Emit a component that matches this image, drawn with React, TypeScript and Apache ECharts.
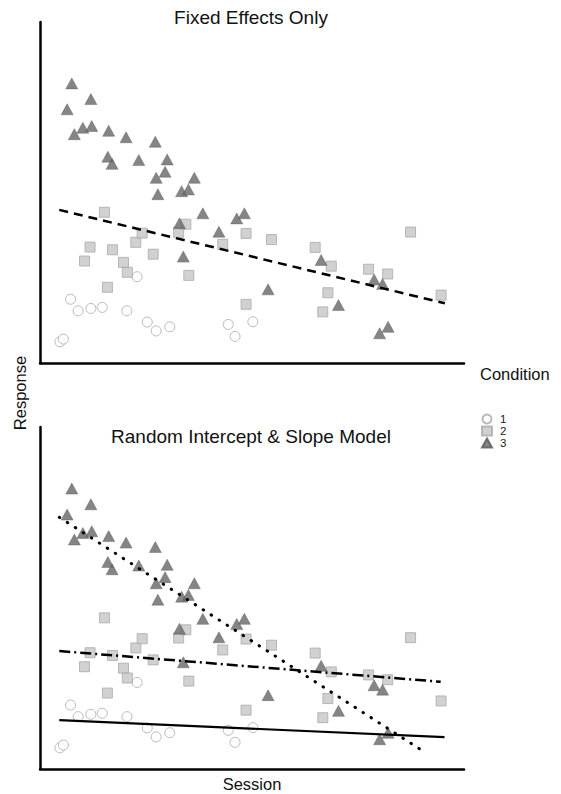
import React, { useEffect, useRef } from "react";
import * as echarts from "echarts";

// Condition 1 (open circles): [session, response]
const cond1: number[][] = [
  [7.2, 18.7], [9.0, 15.3], [12.0, 16.0], [14.7, 16.3], [20.5, 15.3], [22.9, 25.3],
  [25.3, 12.0], [27.4, 9.4], [30.6, 10.6], [4.7, 6.2], [5.5, 7.0], [44.4, 11.3],
  [46.0, 7.8], [50.2, 12.1],
];
// Condition 2 (grey squares)
const cond2: number[][] = [
  [15.2, 44.2], [11.8, 34.0], [17.1, 33.2], [10.5, 29.9], [22.6, 35.4], [24.1, 38.1],
  [26.7, 31.9], [19.7, 29.5], [20.6, 26.6], [15.9, 22.2], [32.7, 38.3], [34.4, 40.7],
  [35.1, 25.7], [43.1, 34.8], [48.6, 38.0], [48.6, 17.2], [54.6, 36.2], [64.9, 33.9],
  [68.7, 28.4], [67.9, 20.6], [66.7, 15.0], [77.5, 27.5], [82.0, 26.1], [87.4, 38.4],
  [94.6, 19.9],
];
// Condition 3 (dark triangles)
const cond3: number[][] = [
  [7.5, 82.0], [12.0, 77.4], [6.4, 74.4], [8.1, 67.1], [10.1, 69.0], [12.2, 69.5],
  [16.2, 68.1], [20.3, 66.2], [27.2, 64.9], [16.0, 60.5], [17.0, 58.4], [23.3, 59.5],
  [30.0, 59.7], [29.5, 56.1], [27.4, 54.3], [36.4, 54.3], [27.8, 49.5], [33.4, 50.4],
  [35.0, 50.9], [38.4, 43.9], [32.9, 41.0], [42.2, 38.5], [46.4, 42.4], [48.2, 43.9],
  [33.8, 31.2], [53.8, 21.6], [66.3, 30.2], [70.4, 17.0], [78.8, 24.5], [80.8, 23.2],
  [80.1, 8.7], [82.1, 10.6],
];
// Fitted lines (endpoints)
const fixedFit: number[][] = [[4.55, 44.9], [95.5, 17.5]];
const fit1: number[][] = [[4.55, 14.3], [95.4, 9.3]];
const fit2: number[][] = [[4.55, 34.5], [94.5, 25.5]];
const fit3: number[][] = [[4.55, 73.6], [90.2, 5.35]];

const conditions = ["1", "2", "3"];
const titles = ["Fixed Effects Only", "Random Intercept & Slope Model"];

const FONT = "'Liberation Sans', Arial, sans-serif";

export default function App() {
  const ref = useRef<HTMLDivElement>(null);
  useEffect(() => {
    document.body.style.margin = "0";
    const chart = echarts.init(ref.current!, null, { renderer: "svg" });

    const styles: any[] = [
      { symbol: "circle", symbolSize: 10, itemStyle: { color: "#ffffff", borderColor: "#a9a9a9", borderWidth: 1 } },
      { symbol: "rect", symbolSize: 10, itemStyle: { color: "#c6c6c6", borderColor: "#aaaaaa", borderWidth: 1 } },
      { symbol: "triangle", symbolSize: [12, 11], itemStyle: { color: "#666666", borderColor: "#575757", borderWidth: 0.5 } },
    ];
    const datas = [cond1, cond2, cond3];

    const scatter: any[] = [];
    [0, 1].forEach((g) => {
      datas.forEach((d, i) => {
        scatter.push({
          type: "scatter",
          name: conditions[i],
          xAxisIndex: g,
          yAxisIndex: g,
          data: d,
          ...styles[i],
          z: 2 + i,
        });
      });
    });

    const lineSeries = (data: number[][], g: number, lineStyle: any) => ({
      type: "line",
      xAxisIndex: g,
      yAxisIndex: g,
      data,
      symbol: "none",
      silent: true,
      z: 10,
      lineStyle: { color: "#000", ...lineStyle },
    });

    const axisCommon = {
      type: "value",
      min: 0,
      max: 100,
      axisLine: { show: true, lineStyle: { color: "#000", width: 2.5 } },
      axisTick: { show: false },
      axisLabel: { show: false },
      splitLine: { show: false },
    };

    chart.setOption({
      animation: false,
      backgroundColor: "#ffffff",
      grid: [
        { left: 40, top: 22, width: 424, height: 341 },
        { left: 40, top: 427, width: 424, height: 342 },
      ],
      xAxis: [
        { ...axisCommon, gridIndex: 0 },
        { ...axisCommon, gridIndex: 1 },
      ],
      yAxis: [
        { ...axisCommon, gridIndex: 0 },
        { ...axisCommon, gridIndex: 1 },
      ],
      legend: {
        data: conditions,
        orient: "vertical",
        left: 481,
        top: 413,
        padding: 0,
        itemWidth: 10,
        itemHeight: 9,
        itemGap: 0,
        textStyle: { fontFamily: FONT, fontSize: 11.5, color: "#222", lineHeight: 10.5, padding: [0, 0, 0, 3] },
        selectedMode: false,
      },
      graphic: [
        { type: "text", x: 251, y: 17, style: { text: titles[0], font: `19px ${FONT}`, fill: "#111", textAlign: "center", textVerticalAlign: "middle" } },
        { type: "text", x: 251, y: 436, style: { text: titles[1], font: `19px ${FONT}`, fill: "#111", textAlign: "center", textVerticalAlign: "middle" } },
        { type: "text", x: 20, y: 393, rotation: Math.PI / 2, style: { text: "Response", font: `16.5px ${FONT}`, fill: "#111", textAlign: "center", textVerticalAlign: "middle" } },
        { type: "text", x: 252, y: 784, style: { text: "Session", font: `16.5px ${FONT}`, fill: "#111", textAlign: "center", textVerticalAlign: "middle" } },
        { type: "text", x: 480, y: 374, style: { text: "Condition", font: `16.5px ${FONT}`, fill: "#111", textAlign: "left", textVerticalAlign: "middle" } },
      ],
      series: [
        ...scatter,
        lineSeries(fixedFit, 0, { type: [9, 6], width: 2.5 }),
        lineSeries(fit1, 1, { type: "solid", width: 2.2 }),
        lineSeries(fit2, 1, { type: [11, 4, 2, 4], width: 2.5 }),
        lineSeries(fit3, 1, { type: [0.5, 9], width: 3, cap: "round" }),
      ],
    });
    return () => chart.dispose();
  }, []);
  return <div ref={ref} style={{ width: 561, height: 794 }} />;
}
